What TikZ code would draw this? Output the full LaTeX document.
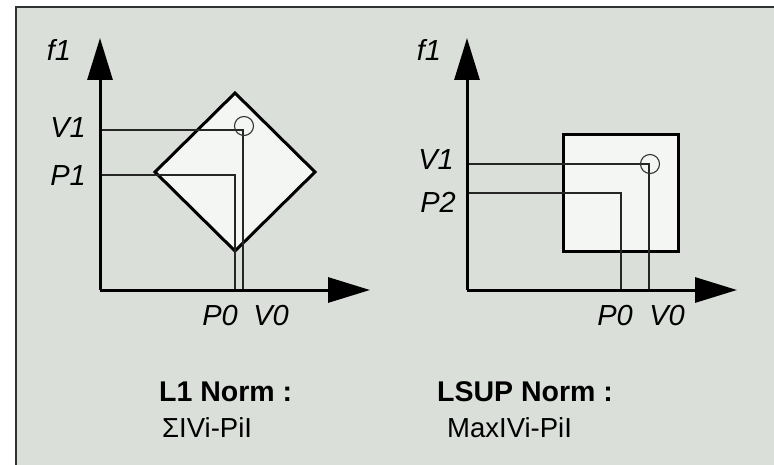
\documentclass[tikz,border=0pt]{standalone}
\usepackage{fontspec}
\setmainfont{Liberation Sans}
\usetikzlibrary{arrows.meta}
\definecolor{bg}{HTML}{DADFDA}
\definecolor{shapefill}{HTML}{F3F6F3}
\definecolor{frame}{HTML}{303430}
\tikzset{
  axis/.style={line width=3pt, -{Triangle[length=42pt,width=25pt]}},
  region/.style={line width=3pt, fill=shapefill, line join=miter},
  proj/.style={line width=1.3pt, draw=black!85},
  mark circ/.style={circle, draw=black!80, line width=1.1pt, minimum size=19pt, inner sep=0pt},
  axlabel/.style={font=\fontsize{29}{32}\selectfont\itshape, inner sep=0pt},
  title/.style={font=\fontsize{28.5}{32}\selectfont\bfseries, inner sep=0pt},
  formula/.style={font=\fontsize{27.5}{30}\selectfont, inner sep=0pt}
}
\begin{document}
\begin{tikzpicture}[x=1pt,y=-1pt]
\useasboundingbox (0,0) rectangle (774,465);
\fill[white] (0,0) rectangle (774,465);
\fill[bg] (16,7) rectangle (774,465);
\draw[frame, line width=2pt] (16,465) -- (16,7) -- (774,7);

% ---------- left panel: L1 norm ----------
\coordinate (Lo) at (100,290);
\coordinate (Ly) at (100,38);
\coordinate (Lx) at (370,290);
\coordinate (Dt) at (235,93);
\coordinate (Dr) at (315,172);
\coordinate (Db) at (235,251);
\coordinate (Dl) at (155,172);
\draw[region] (Dt) -- (Dr) -- (Db) -- (Dl) -- cycle;
\coordinate (LV1) at (100,130);
\coordinate (LVc) at (243,130);
\coordinate (LV0) at (243,290);
\coordinate (LP1) at (100,175);
\coordinate (LPc) at (235,175);
\coordinate (LP0) at (235,290);
\draw[proj] (LV1) -- (LVc) -- (LV0);
\draw[proj] (LP1) -- (LPc) -- (LP0);
\node[mark circ] (Lcirc) at (244,126) {};
\draw[axis] (Lo) -- (Ly);
\draw[axis] (Lo) -- (Lx);
\node[axlabel] (Lf1) at (59,50) {f1};
\node[axlabel, anchor=east] (LlV1) at (86,128) {V1};
\node[axlabel, anchor=east] (LlP1) at (86,176) {P1};
\node[axlabel] (LlP0) at (220,316) {P0};
\node[axlabel] (LlV0) at (271,316) {V0};
\node[title, anchor=west] (Lt) at (159,392) {L1 Norm :};
\node[formula, anchor=west] (Lf) at (162,428) {ΣIVi-PiI};

% ---------- right panel: LSUP norm ----------
\coordinate (Ro) at (467,290);
\coordinate (Ry) at (467,38);
\coordinate (Rx) at (737,290);
\coordinate (Sa) at (563,135);
\coordinate (Sb) at (678,252);
\draw[region] (Sa) rectangle (Sb);
\coordinate (RV1) at (467,164);
\coordinate (RVc) at (649,164);
\coordinate (RV0) at (649,290);
\coordinate (RP2) at (467,193);
\coordinate (RPc) at (621,193);
\coordinate (RP0) at (621,290);
\draw[proj] (RV1) -- (RVc) -- (RV0);
\draw[proj] (RP2) -- (RPc) -- (RP0);
\node[mark circ] (Rcirc) at (650,164) {};
\draw[axis] (Ro) -- (Ry);
\draw[axis] (Ro) -- (Rx);
\node[axlabel] (Rf1) at (429,50) {f1};
\node[axlabel, anchor=east] (RlV1) at (454,160) {V1};
\node[axlabel, anchor=east] (RlP2) at (456,202) {P2};
\node[axlabel] (RlP0) at (615,316) {P0};
\node[axlabel] (RlV0) at (667,316) {V0};
\node[title, anchor=west] (Rt) at (437,392) {LSUP Norm :};
\node[formula, anchor=west] (Rf) at (447,428) {MaxIVi-PiI};
\end{tikzpicture}
\end{document}
